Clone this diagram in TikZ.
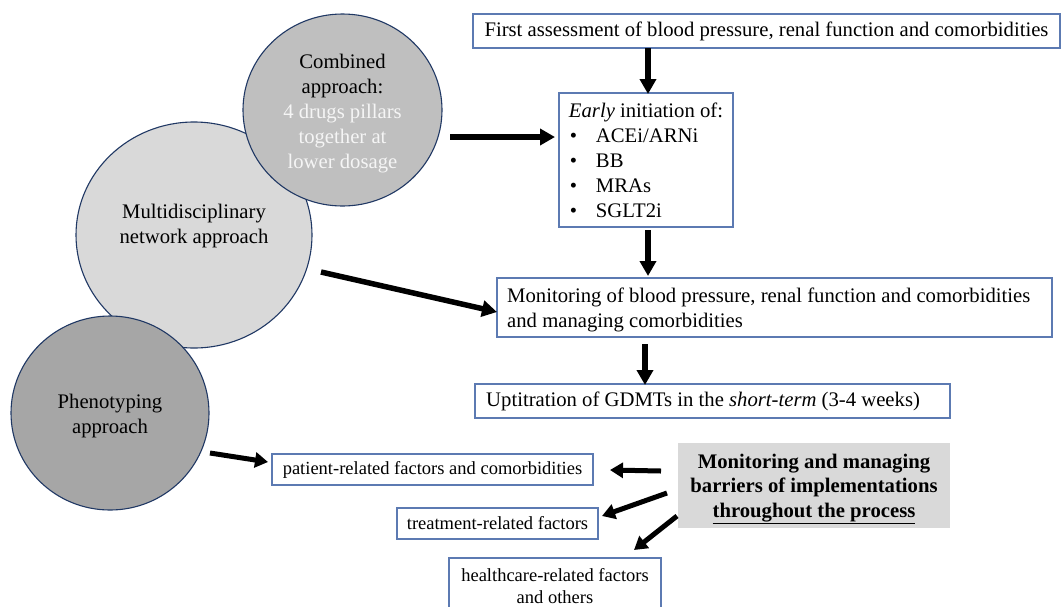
\documentclass[tikz,border=0pt]{standalone}
\usepackage{fontspec}
\setmainfont{Liberation Serif}
\usetikzlibrary{arrows.meta,shapes.geometric}
\definecolor{boxblue}{RGB}{92,122,178}
\definecolor{navy}{RGB}{32,56,100}
\definecolor{cgray}{RGB}{191,191,191}
\definecolor{mgray}{RGB}{217,217,217}
\definecolor{pgray}{RGB}{166,166,166}
\definecolor{softwhite}{RGB}{245,245,245}
\begin{document}
\begin{tikzpicture}[x=1pt,y=-1pt,
  bigfont/.style={font=\fontsize{20.7}{25}\selectfont},
  smallfont/.style={font=\fontsize{18.5}{22}\selectfont},
  bx/.style={draw=boxblue,line width=1.1pt,rectangle,inner ysep=0pt,fill=white},
  circ/.style={draw=navy,line width=1.1pt,ellipse,inner sep=0pt},
  txt/.style={bigfont,inner sep=0pt},
  bigarrow/.style={line width=5.5pt,-{Triangle[length=15pt,width=16pt]}},
  smallarrow/.style={line width=5pt,-{Triangle[length=13pt,width=15pt]}}]
\clip (0,0) rectangle (1062,606);
\fill[white] (0,0) rectangle (1062,606);

% circles
\node[circ,fill=mgray,minimum width=236pt,minimum height=226pt] (multi) at (194,235) {};
\node[txt,align=center] (multitext) at (194,226) {Multidisciplinary\\network approach};
\node[circ,fill=cgray,minimum width=199pt,minimum height=192pt] (comb) at (342.5,110) {};
\node[txt,align=center] (combtext) at (342.5,114)
  {Combined\\approach:\\\textcolor{softwhite}{4 drugs pillars}\\\textcolor{softwhite}{together at}\\\textcolor{softwhite}{lower dosage}};
\node[circ,fill=pgray,minimum width=198pt,minimum height=194pt] (pheno) at (110,413) {};
\node[txt,align=center] (phenotext) at (110,416) {Phenotyping\\approach};

% flow boxes
\node[bx,bigfont,minimum width=587pt,minimum height=34pt] (first) at (766.5,31)
  {First assessment of blood pressure, renal function and comorbidities};
\node[bx,bigfont,inner xsep=2pt,align=left,minimum width=174pt,minimum height=134pt] (early) at (646,160)
  {\textit{Early} initiation of:\\
   \hspace*{1pt}\makebox[26pt][l]{•}ACEi/ARNi\\
   \hspace*{1pt}\makebox[26pt][l]{•}BB\\
   \hspace*{1pt}\makebox[26pt][l]{•}MRAs\\
   \hspace*{1pt}\makebox[26pt][l]{•}SGLT2i};
\node[bx,minimum width=555pt,minimum height=59pt] (mon) at (774.5,307.5) {};
\node[txt,align=left,anchor=west] (montext) at (507,309.5)
  {Monitoring of blood pressure, renal function and comorbidities\\and managing comorbidities};
\node[bx,minimum width=475pt,minimum height=34pt] (upt) at (712.5,401) {};
\node[txt,anchor=west] (upttext) at (486,401)
  {Uptitration of GDMTs in the \textit{short-term} (3-4 weeks)};

% barrier boxes
\node[bx,smallfont,minimum width=321pt,minimum height=31pt] (patient) at (432.5,469.5)
  {patient-related factors and comorbidities};
\node[bx,smallfont,minimum width=212pt,minimum height=56pt,align=center] (health) at (555,586)
  {healthcare-related factors\\and others};
\node[bx,smallfont,minimum width=201pt,minimum height=31pt] (treat) at (497.5,523.5)
  {treatment-related factors};
\node[fill=mgray,minimum width=272pt,minimum height=85pt,inner sep=0pt] (gray) at (814,485.5) {};
\node[font=\fontsize{20.7}{24.5}\selectfont\bfseries,align=center,inner sep=0pt] (graytext) at (814,489)
  {Monitoring and managing\\barriers of implementations\\\underline{throughout the process}};

% coordinates for free ends
\coordinate (combout) at (450,137);
\coordinate (earlyin) at (555,137);
\coordinate (multiout) at (321,272);
\coordinate (monin) at (497,312);
\coordinate (phenoout) at (210,453);
\coordinate (patin) at (268,462);
\coordinate (g1) at (661,471);
\coordinate (p1) at (610,470);
\coordinate (g2) at (667,493);
\coordinate (t1) at (602,516);
\coordinate (g3) at (677,516);
\coordinate (h1) at (634,550);
\coordinate (fs) at (648,48);
\coordinate (en) at (648,94);
\coordinate (es) at (648,230);
\coordinate (mn) at (648,276);
\coordinate (ms) at (645,344);
\coordinate (un) at (645,385);

% arrows
\draw[bigarrow] (fs) -- (en);
\draw[bigarrow] (es) -- (mn);
\draw[bigarrow] (ms) -- (un);
\draw[bigarrow] (combout) -- (earlyin);
\draw[bigarrow] (multiout) -- (monin);
\draw[smallarrow] (phenoout) -- (patin);
\draw[smallarrow] (g1) -- (p1);
\draw[smallarrow] (g2) -- (t1);
\draw[smallarrow] (g3) -- (h1);
\end{tikzpicture}
\end{document}
